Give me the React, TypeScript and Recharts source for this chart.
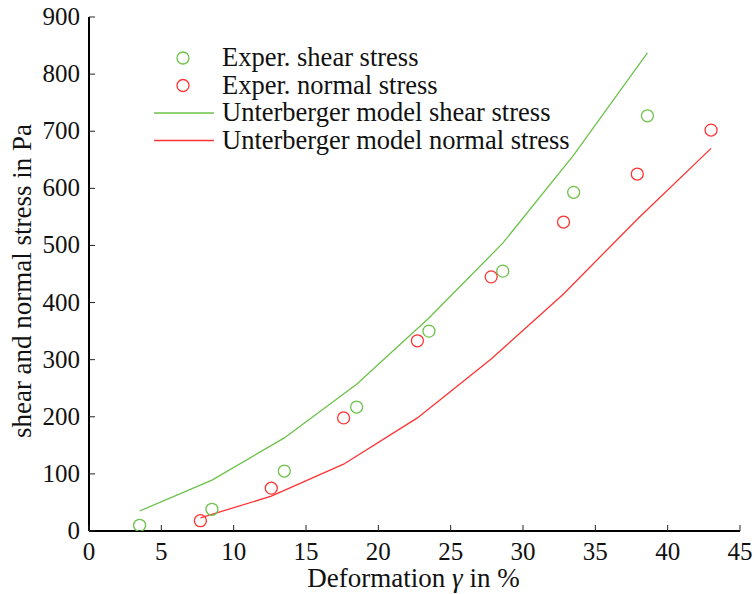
import React from 'react';
import { ComposedChart, XAxis, YAxis, Line, Scatter, Legend } from 'recharts';

const shearGamma = [3.5, 8.5, 13.5, 18.5, 23.5, 28.6, 33.5, 38.6];
const shearExp = [10, 38, 105, 217, 350, 455, 593, 727];
const shearModel = [35, 89, 163, 257, 373, 504, 658, 837];
const normalGamma = [7.7, 12.6, 17.6, 22.7, 27.8, 32.8, 37.9, 43.0];
const normalExp = [18, 75, 198, 333, 445, 541, 625, 702];
const normalModel = [23, 61, 117, 198, 301, 415, 546, 670];
const xTicks = [0, 5, 10, 15, 20, 25, 30, 35, 40, 45];
const yTicks = [0, 100, 200, 300, 400, 500, 600, 700, 800, 900];
const legendLabels = [
  'Exper. shear stress',
  'Exper. normal stress',
  'Unterberger model shear stress',
  'Unterberger model normal stress',
];

const GREEN = '#6cc24a';
const RED = '#ff3333';
const FONT = 'Liberation Serif';
const tickTxt = { fontFamily: FONT, fontSize: 25 } as const;
const labelTxt = { fontFamily: FONT, fontSize: 27 } as const;
const legendTxt = { fontFamily: FONT, fontSize: 26.5 } as const;

const shearExpData = shearGamma.map((x, i) => ({ x, y: shearExp[i] }));
const shearModelData = shearGamma.map((x, i) => ({ x, y: shearModel[i] }));
const normalExpData = normalGamma.map((x, i) => ({ x, y: normalExp[i] }));
const normalModelData = normalGamma.map((x, i) => ({ x, y: normalModel[i] }));

const TICK_LEN = 6;

const BottomTick = (p: any) => (
  <g>
    <line x1={p.x} y1={p.y} x2={p.x} y2={p.y - TICK_LEN} stroke="#222" strokeWidth={1} />
    <text x={p.x} y={p.y + 29} textAnchor="middle" style={tickTxt} fill="#111">
      {p.payload.value}
    </text>
  </g>
);
const TopTick = (p: any) => (
  <line x1={p.x} y1={p.y} x2={p.x} y2={p.y + TICK_LEN} stroke="#222" strokeWidth={1} />
);
const LeftTick = (p: any) => (
  <g>
    <line x1={p.x} y1={p.y} x2={p.x + TICK_LEN} y2={p.y} stroke="#222" strokeWidth={1} />
    <text x={p.x - 9} y={p.y + 8} textAnchor="end" style={tickTxt} fill="#111">
      {p.payload.value}
    </text>
  </g>
);
const RightTick = (p: any) => (
  <line x1={p.x} y1={p.y} x2={p.x - TICK_LEN} y2={p.y} stroke="#222" strokeWidth={1} />
);

const Circle = (p: any) => (
  <circle cx={p.cx} cy={p.cy} r={6} fill="none" stroke={p.fill} strokeWidth={1.3} />
);

const PAD = 10;
const LegendContent = () => (
  <svg width={470} height={140} style={{ display: 'block', overflow: 'visible' }}>
    {legendLabels.map((label, i) => {
      const cy = PAD + 14 + i * 27.5;
      const color = i % 2 === 0 ? GREEN : RED;
      return (
        <g key={label}>
          {i < 2 ? (
            <circle cx={43} cy={cy} r={6} fill="none" stroke={color} strokeWidth={1.3} />
          ) : (
            <line x1={14} y1={cy} x2={74} y2={cy} stroke={color} strokeWidth={1.3} />
          )}
          <text x={82} y={cy + 8} style={legendTxt} fill="#111">
            {label}
          </text>
        </g>
      );
    })}
  </svg>
);

export default function App() {
  return (
    <div style={{ position: 'absolute', left: 0, top: 0, background: '#fff' }}>
      <ComposedChart width={754} height={594} margin={{ top: 17, right: 14, bottom: 0, left: 0 }}>
        <XAxis
          xAxisId="b"
          dataKey="x"
          type="number"
          domain={[0, 45]}
          ticks={xTicks}
          interval={0}
          height={63}
          tickSize={0}
          tickMargin={0}
          tickLine={false}
          axisLine={{ stroke: '#000', strokeWidth: 2 }}
          tick={BottomTick}
          allowDataOverflow
          label={({ viewBox }: any) => (
            <text
              x={viewBox.x + viewBox.width / 2 - 1}
              y={viewBox.y + 56}
              textAnchor="middle"
              style={labelTxt}
              fill="#111"
            >
              Deformation <tspan fontStyle="italic">γ</tspan> in %
            </text>
          )}
        />
        <XAxis
          xAxisId="t"
          orientation="top"
          dataKey="x"
          type="number"
          domain={[0, 45]}
          ticks={xTicks}
          interval={0}
          height={0}
          tickSize={0}
          tickMargin={0}
          tickLine={false}
          axisLine={{ stroke: '#000', strokeWidth: 2 }}
          tick={TopTick}
          allowDataOverflow
        />
        <YAxis
          yAxisId="l"
          type="number"
          domain={[0, 900]}
          ticks={yTicks}
          interval={0}
          width={89}
          tickSize={0}
          tickMargin={0}
          tickLine={false}
          axisLine={{ stroke: '#000', strokeWidth: 2 }}
          tick={LeftTick}
          allowDataOverflow
          label={({ viewBox }: any) => {
            const cy = viewBox.y + viewBox.height / 2 + 7;
            return (
              <text
                x={31}
                y={cy}
                textAnchor="middle"
                transform={`rotate(-90 31 ${cy})`}
                style={labelTxt}
                fill="#111"
              >
                shear and normal stress in Pa
              </text>
            );
          }}
        />
        <YAxis
          yAxisId="r"
          orientation="right"
          type="number"
          domain={[0, 900]}
          ticks={yTicks}
          interval={0}
          width={0}
          tickSize={0}
          tickMargin={0}
          tickLine={false}
          axisLine={{ stroke: '#000', strokeWidth: 2 }}
          tick={RightTick}
          allowDataOverflow
        />
        <Legend
          layout="vertical"
          align="center"
          verticalAlign="middle"
          content={LegendContent}
          wrapperStyle={{ position: 'absolute', left: 140, top: 44 - PAD, width: 470, height: 140 }}
        />
        <Line
          xAxisId="b"
          yAxisId="l"
          data={shearModelData}
          dataKey="y"
          stroke={GREEN}
          strokeWidth={1.3}
          dot={false}
          activeDot={false}
          type="linear"
          isAnimationActive={false}
        />
        <Line
          xAxisId="b"
          yAxisId="l"
          data={normalModelData}
          dataKey="y"
          stroke={RED}
          strokeWidth={1.3}
          dot={false}
          activeDot={false}
          type="linear"
          isAnimationActive={false}
        />
        <Scatter
          xAxisId="b"
          yAxisId="l"
          data={shearExpData}
          dataKey="y"
          fill={GREEN}
          shape={Circle}
          isAnimationActive={false}
        />
        <Scatter
          xAxisId="b"
          yAxisId="l"
          data={normalExpData}
          dataKey="y"
          fill={RED}
          shape={Circle}
          isAnimationActive={false}
        />
      </ComposedChart>
    </div>
  );
}
